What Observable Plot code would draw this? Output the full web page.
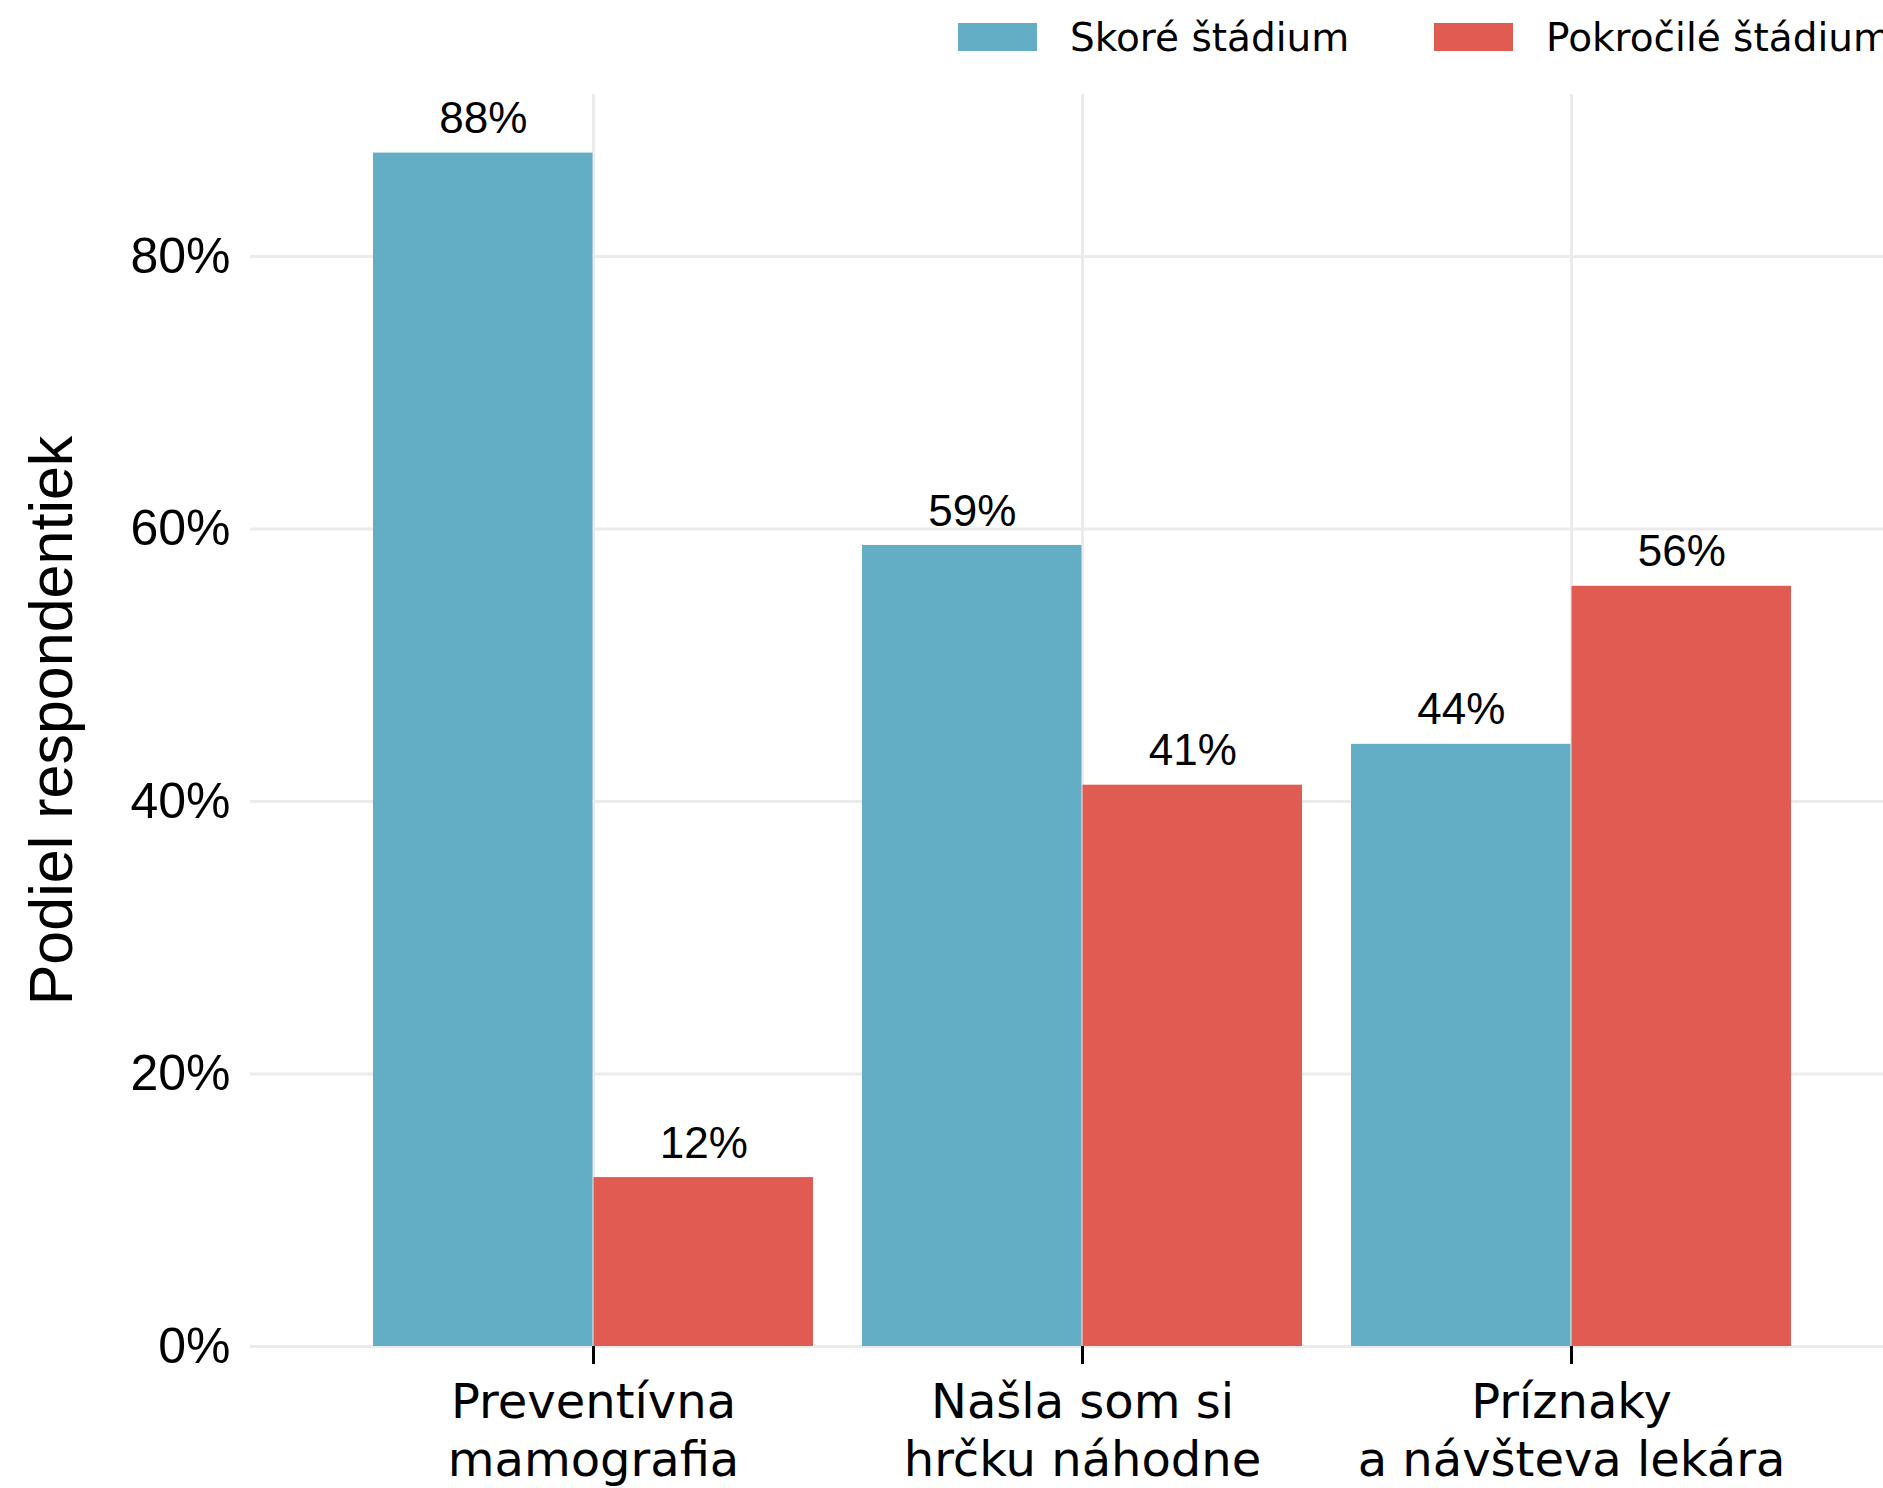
<!DOCTYPE html>
<html>
<head>
<meta charset="utf-8">
<script src="https://cdn.jsdelivr.net/npm/d3@7"></script>
<script src="https://cdn.jsdelivr.net/npm/@observablehq/plot@0.6"></script>
<style>
  html, body { margin: 0; padding: 0; background: #fff; }
  body { width: 1883px; height: 1488px; overflow: hidden; position: relative; }
  #legend { position: relative; height: 75px; width: 1883px; }
  .item { position: absolute; top: 0; height: 75px; display: flex; align-items: center; white-space: nowrap;
          font-family: "DejaVu Sans", sans-serif; font-size: 39px; color: #000; }
  .key { width: 79px; height: 28px; margin-right: 33px; margin-top: -2px; }
  svg { display: block; }
</style>
</head>
<body>
<div id="legend"></div>
<div id="chart"></div>
<script>
const categories = ["Preventívna\nmamografia", "Našla som si\nhrčku náhodne", "Príznaky\na návšteva lekára"];
const stages = ["Skoré štádium", "Pokročilé štádium"];
const earlyValues = [0.876, 0.588, 0.442];
const advancedValues = [0.124, 0.412, 0.558];
const colors = ["#63AEC5", "#E05C53"];
const yTicks = [0, 0.2, 0.4, 0.6, 0.8];
const yLabel = "Podiel respondentiek";

const rows = [];
categories.forEach((c, i) => {
  rows.push({category: c, stage: stages[0], value: earlyValues[i]});
  rows.push({category: c, stage: stages[1], value: advancedValues[i]});
});

// legend
const legend = document.getElementById("legend");
const legendLeft = [958, 1434];
stages.forEach((s, i) => {
  const item = document.createElement("div");
  item.className = "item";
  item.style.left = legendLeft[i] + "px";
  const key = document.createElement("div");
  key.className = "key";
  key.style.background = colors[i];
  const label = document.createElement("span");
  label.textContent = s;
  item.appendChild(key);
  item.appendChild(label);
  legend.appendChild(item);
});

const W = 1883, H = 1413;
const marginLeft = 250, marginTop = 19, marginBottom = 142;
const xRange = [250, 1915];
const padIn = 0.1, padOut = 0.249;
const bw = d3.scaleBand().domain(categories).range(xRange).paddingInner(padIn).paddingOuter(padOut).bandwidth();
const fmt = d3.format(".0%");

const early = rows.filter(d => d.stage === stages[0]);
const adv = rows.filter(d => d.stage === stages[1]);

const plot = Plot.plot({
  width: W,
  height: H,
  marginLeft,
  marginRight: 0,
  marginTop,
  marginBottom,
  style: {fontFamily: "'Liberation Sans', Arial, sans-serif", color: "#000", background: "#fff"},
  x: {type: "band", domain: categories, range: xRange, paddingInner: padIn, paddingOuter: padOut, label: null},
  y: {domain: [0, 0.919], label: null},
  color: {domain: stages, range: colors},
  marks: [
    Plot.gridY(yTicks, {stroke: "#ebebeb", strokeOpacity: 1, strokeWidth: 3}),
    Plot.gridX({stroke: "#ebebeb", strokeOpacity: 1, strokeWidth: 3}),
    Plot.barY(early, {x: "category", y: "value", fill: "stage", insetRight: bw / 2}),
    Plot.barY(adv, {x: "category", y: "value", fill: "stage", insetLeft: bw / 2}),
    Plot.text(early, {x: "category", y: "value", text: d => fmt(d.value), dx: -bw / 4, dy: -34, fontSize: 44, fill: "#000", lineAnchor: "middle"}),
    Plot.text(adv, {x: "category", y: "value", text: d => fmt(d.value), dx: bw / 4, dy: -34, fontSize: 44, fill: "#000", lineAnchor: "middle"}),
    Plot.axisY({ticks: yTicks, tickFormat: fmt, tickSize: 0, tickPadding: 20, fontSize: 50, label: null}),
    Plot.axisX({tickSize: 18, tickPadding: 13, strokeWidth: 3, stroke: "#000", fontSize: 48, lineHeight: 1.2,
                fontFamily: "'DejaVu Sans', sans-serif", label: null}),
    Plot.text([yLabel], {frameAnchor: "left", rotate: -90, dx: -198, fontSize: 61, fill: "#000", lineAnchor: "middle", textAnchor: "middle"})
  ]
});
document.getElementById("chart").appendChild(plot);
</script>
</body>
</html>
